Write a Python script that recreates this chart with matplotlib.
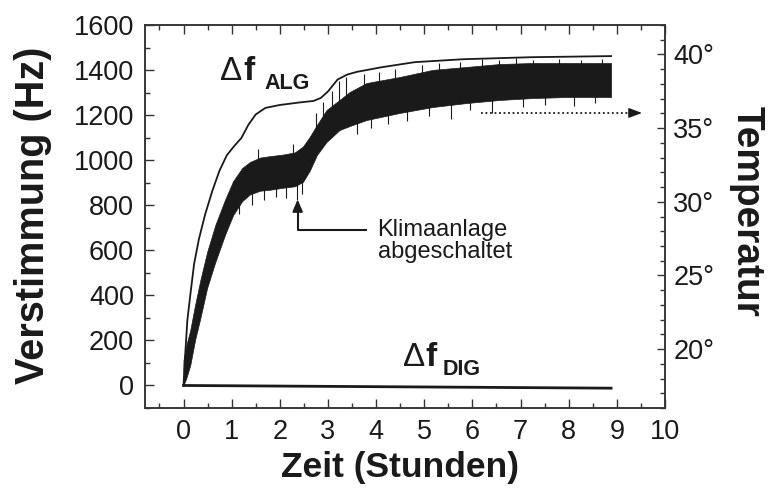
import numpy as np
import matplotlib
matplotlib.use("Agg")
import matplotlib.pyplot as plt
from matplotlib.ticker import MultipleLocator, FuncFormatter

plt.rcParams['font.family'] = ['Liberation Sans', 'DejaVu Sans']

# Delta f ALG (Hz, left axis) - smooth thin line
alg_t = [0.0, 0.03, 0.08, 0.14, 0.22, 0.32, 0.45, 0.60, 0.75, 0.90, 1.05, 1.20, 1.35,
         1.50, 1.70, 2.00, 2.40, 2.70, 2.85, 3.00, 3.20, 3.40, 3.60, 4.10, 4.80, 5.80,
         7.20, 8.88]
alg_hz = [0, 120, 290, 400, 540, 650, 760, 865, 955, 1022, 1062, 1098, 1158,
          1203, 1232, 1245, 1256, 1263, 1276, 1305, 1358, 1380, 1392, 1412, 1435, 1448,
          1457, 1462]

# Delta f DIG (Hz, left axis)
dig_t = [0.0, 3.0, 6.0, 8.88]
dig_hz = [0, -4, -8, -12]

# temperature band (right axis), lower / upper envelope of noisy trace
temp_t = [0.0, 0.06, 0.14, 0.24, 0.35, 0.49, 0.66, 0.86, 1.03, 1.22, 1.38, 1.59,
          1.80, 2.06, 2.31, 2.48, 2.62, 2.77, 2.97, 3.24, 3.45, 3.80, 4.49, 5.17,
          5.87, 6.56, 7.24, 7.94, 8.88]
temp_lo = [17.56, 18.04, 18.92, 20.62, 22.11, 24.15, 25.91, 27.74, 29.10, 30.05, 30.50, 30.75,
           30.82, 30.95, 31.05, 31.35, 32.10, 33.17, 34.06, 34.87, 35.14, 35.55, 36.03, 36.43,
           36.70, 36.91, 37.04, 37.11, 37.11]
temp_hi = [19.26, 20.28, 21.29, 22.99, 24.69, 26.59, 28.42, 30.12, 31.40, 32.30, 32.70, 33.00,
           33.10, 33.20, 33.35, 33.75, 34.40, 35.21, 36.23, 36.91, 37.45, 38.06, 38.47, 38.95,
           39.15, 39.35, 39.42, 39.42, 39.42]

# single spikes sticking out of the band (start, end in degrees)
spike_t = [1.15, 1.42, 1.68, 1.93, 2.12, 2.35, 2.47,
           1.55, 2.28, 2.75, 2.90, 3.08, 3.22, 3.38,
           3.60, 3.90, 4.25, 4.65, 5.10, 5.55, 5.95, 6.40, 7.05, 7.50, 8.10, 8.55,
           3.75, 4.05, 4.40, 4.95, 5.30, 5.75, 6.20, 6.55, 6.90, 7.25, 7.80, 8.25, 8.70]
spike_lo = [29.2, 29.8, 30.15, 30.3, 30.25, 30.1, 30.5,
            32.0, 33.0, 34.0, 34.5, 35.0, 35.5, 36.0,
            34.6, 35.0, 35.3, 35.5, 35.8, 35.6, 36.2, 36.0, 36.4, 36.6, 36.5, 36.7,
            37.0, 37.5, 38.0, 38.0, 38.0, 38.0, 38.0, 38.0, 38.0, 38.0, 38.0, 38.0, 38.0]
spike_hi = [31.0, 32.0, 32.0, 32.0, 32.0, 32.0, 32.5,
            33.6, 33.9, 36.0, 36.8, 37.5, 38.2, 38.5,
            36.0, 36.5, 37.0, 37.0, 37.5, 37.5, 37.5, 38.0, 38.0, 38.0, 38.0, 38.0,
            38.7, 38.8, 39.0, 39.3, 39.4, 39.5, 39.7, 39.6, 39.75, 39.6, 39.7, 39.65, 39.7]

fig = plt.figure(figsize=(7.68, 4.91), dpi=100)
ax = fig.add_axes([145/768, 83/491, 520/768, 383/491])
ax2 = ax.twinx()

ink = '#1a1a1a'
ax.plot(alg_t, alg_hz, color=ink, lw=1.3)
ax.plot(dig_t, dig_hz, color=ink, lw=2.0)
ax2.fill_between(temp_t, temp_lo, temp_hi, color=ink, lw=0.5, edgecolor=ink)
ax2.vlines(spike_t, spike_lo, spike_hi, color=ink, lw=0.8)

ax.set_xlim(-0.8, 10)
ax.set_ylim(-100, 1600)
ax2.set_ylim(16, 42)

ax.xaxis.set_minor_locator(MultipleLocator(0.5))
ax.yaxis.set_major_locator(MultipleLocator(200))
ax.yaxis.set_minor_locator(MultipleLocator(100))
ax.set_xticks(np.arange(0, 11, 1))
ax2.yaxis.set_minor_locator(MultipleLocator(1))
ax2.set_yticks([20, 25, 30, 35, 40])
ax2.yaxis.set_major_formatter(FuncFormatter(lambda v, p: f"{v:.0f}°"))

ax.tick_params(axis='both', which='both', direction='in', top=True, right=False,
               labelsize=19.5, color='#333333', labelcolor=ink)
ax.tick_params(which='major', length=6.5, width=1, pad=8)
ax.tick_params(which='minor', length=3.5, width=1)
ax2.tick_params(axis='y', which='both', direction='in', labelsize=19.5,
                color='#333333', labelcolor=ink)
ax2.tick_params(which='major', length=6, width=1, pad=6)
ax2.tick_params(which='minor', length=3.5, width=1)
for a in (ax, ax2):
    for s in a.spines.values():
        s.set_color('#333333')
        s.set_linewidth(1.1)

fig.text(33/768, 1 - 215/491, "Verstimmung (Hz)", rotation=90, ha='center', va='center',
         fontsize=28.5, fontweight='bold', color=ink)
fig.text(747/768, 1 - 211/491, "Temperatur", rotation=270, ha='center', va='center',
         fontsize=28, fontweight='bold', color=ink)
fig.text(400/768, 1 - 467/491, "Zeit (Stunden)", ha='center', va='center',
         fontsize=25.5, fontweight='bold', color=ink)

# curve labels: thin delta, bold f, bold subscript
ax.text(0.76, 1355, "Δ", fontsize=24, color=ink, ha='left', va='baseline')
ax.text(1.24, 1355, "f", fontsize=24, fontweight='bold', color=ink, ha='left', va='baseline')
ax.text(1.68, 1318, "ALG", fontsize=15.5, fontweight='bold', color=ink, ha='left', va='baseline')
ax.text(4.55, 88, "Δ", fontsize=24, color=ink, ha='left', va='baseline')
ax.text(5.03, 88, "f", fontsize=24, fontweight='bold', color=ink, ha='left', va='baseline')
ax.text(5.38, 48, "DIG", fontsize=15.5, fontweight='bold', color=ink, ha='left', va='baseline')

# Klimaanlage annotation
ax.plot([3.8, 2.37, 2.37], [690, 690, 790], color=ink, lw=1.5)
ax.annotate('', xy=(2.37, 838), xytext=(2.37, 770),
            arrowprops=dict(arrowstyle='-|>,head_length=0.7,head_width=0.3', color=ink, lw=1.5))
ax.text(4.03, 640, "Klimaanlage\nabgeschaltet", fontsize=17, color=ink,
        ha='left', va='center', linespacing=1.0)

# dotted arrow to the temperature axis
ax2.plot([6.18, 9.3], [36.03, 36.03], color=ink, lw=1.3, ls=(0, (1, 1.5)))
ax2.annotate('', xy=(9.58, 36.03), xytext=(9.2, 36.03),
             arrowprops=dict(arrowstyle='-|>,head_length=0.8,head_width=0.3', color=ink, lw=1))

fig.savefig("out.png", dpi=100)
